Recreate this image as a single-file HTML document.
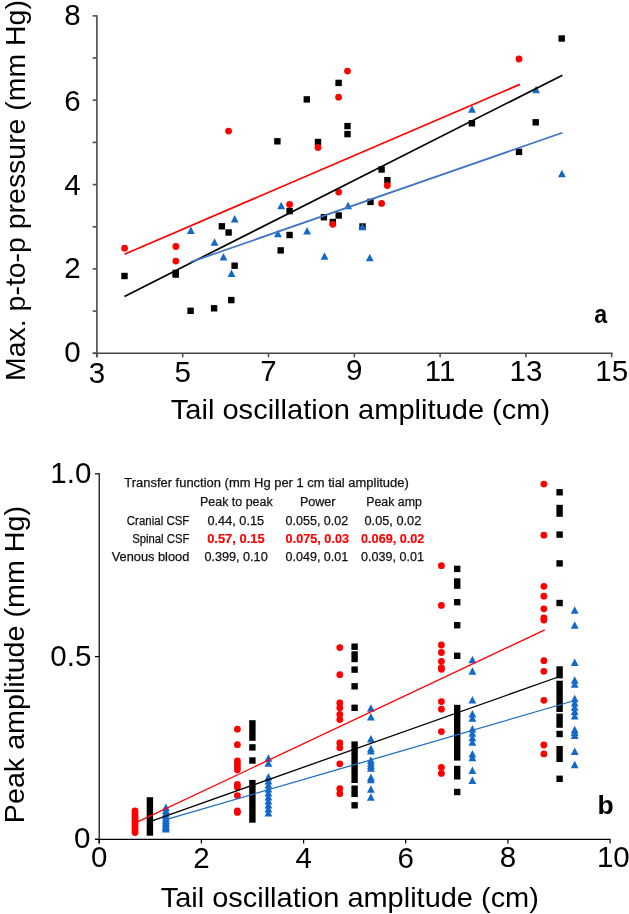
<!DOCTYPE html>
<html><head><meta charset="utf-8"><title>Chart</title>
<style>
html,body{margin:0;padding:0;background:#fff;}
body{width:629px;height:914px;overflow:hidden;}
svg{display:block;will-change:transform;}
text{font-family:'Liberation Sans',sans-serif;}
</style></head><body>
<svg width="629" height="914" viewBox="0 0 629 914">
<rect width="629" height="914" fill="#fff"/>

<g stroke="#4d4d4d" stroke-width="1.6" fill="none" stroke-linecap="butt">
<path d="M96.9 15.3V357.3"/>
<path stroke="#454545" stroke-width="1.4" d="M92.7 353.3H612.5"/>
<path d="M92.7 353.3H96.9"/>
<path d="M92.7 311.1H96.9"/>
<path d="M92.7 268.9H96.9"/>
<path d="M92.7 226.8H96.9"/>
<path d="M92.7 184.6H96.9"/>
<path d="M92.7 142.4H96.9"/>
<path d="M92.7 100.2H96.9"/>
<path d="M92.7 58.0H96.9"/>
<path d="M92.7 15.9H96.9"/>
<path d="M96.9 353.3V357.3"/>
<path d="M182.7 353.3V357.3"/>
<path d="M268.5 353.3V357.3"/>
<path d="M354.3 353.3V357.3"/>
<path d="M440.1 353.3V357.3"/>
<path d="M525.9 353.3V357.3"/>
<path d="M611.7 353.3V357.3"/>
</g>
<g font-size="29.5" fill="#000">
<text x="80.7" y="362.3" text-anchor="end">0</text>
<text x="80.7" y="277.8" text-anchor="end">2</text>
<text x="80.7" y="195.3" text-anchor="end">4</text>
<text x="80.7" y="110.5" text-anchor="end">6</text>
<text x="80.7" y="25.3" text-anchor="end">8</text>
<text x="96.9" y="382.6" text-anchor="middle">3</text>
<text x="182.7" y="381.5" text-anchor="middle">5</text>
<text x="268.5" y="380.9" text-anchor="middle">7</text>
<text x="354.3" y="379.8" text-anchor="middle">9</text>
<text x="440.1" y="380.6" text-anchor="middle">11</text>
<text x="525.9" y="381.4" text-anchor="middle">13</text>
<text x="611.7" y="380.9" text-anchor="middle">15</text>
</g>
<text x="170.8" y="418.9" font-size="28" textLength="379.4" lengthAdjust="spacingAndGlyphs">Tail oscillation amplitude (cm)</text>
<text transform="translate(25.4 380.9) rotate(-90)" x="0" y="0" font-size="28" textLength="380.8" lengthAdjust="spacingAndGlyphs">Max. p-to-p pressure (mm Hg)</text>
<text x="594.2" y="323.3" font-size="26.5" font-weight="bold" textLength="12.9" lengthAdjust="spacingAndGlyphs">a</text>
<g fill="#000"><rect x="121.30" y="272.80" width="6.4" height="6.4"/><rect x="172.50" y="269.70" width="6.4" height="6.4"/><rect x="172.50" y="271.40" width="6.4" height="6.4"/><rect x="187.40" y="307.60" width="6.4" height="6.4"/><rect x="210.90" y="305.10" width="6.4" height="6.4"/><rect x="228.10" y="296.90" width="6.4" height="6.4"/><rect x="231.40" y="262.50" width="6.4" height="6.4"/><rect x="225.40" y="229.30" width="6.4" height="6.4"/><rect x="218.70" y="223.10" width="6.4" height="6.4"/><rect x="286.40" y="207.90" width="6.4" height="6.4"/><rect x="286.40" y="231.80" width="6.4" height="6.4"/><rect x="277.50" y="247.20" width="6.4" height="6.4"/><rect x="320.70" y="214.00" width="6.4" height="6.4"/><rect x="335.50" y="212.30" width="6.4" height="6.4"/><rect x="329.60" y="218.80" width="6.4" height="6.4"/><rect x="359.30" y="223.30" width="6.4" height="6.4"/><rect x="367.30" y="198.70" width="6.4" height="6.4"/><rect x="378.40" y="166.30" width="6.4" height="6.4"/><rect x="384.20" y="177.00" width="6.4" height="6.4"/><rect x="335.40" y="79.70" width="6.4" height="6.4"/><rect x="303.60" y="96.20" width="6.4" height="6.4"/><rect x="344.30" y="122.90" width="6.4" height="6.4"/><rect x="344.30" y="130.90" width="6.4" height="6.4"/><rect x="274.20" y="138.10" width="6.4" height="6.4"/><rect x="314.80" y="138.80" width="6.4" height="6.4"/><rect x="468.70" y="120.10" width="6.4" height="6.4"/><rect x="532.50" y="119.10" width="6.4" height="6.4"/><rect x="515.80" y="148.70" width="6.4" height="6.4"/><rect x="558.50" y="35.30" width="6.4" height="6.4"/></g>
<g fill="#ff0000"><circle cx="124.6" cy="248.2" r="3.4"/><circle cx="175.9" cy="246.5" r="3.4"/><circle cx="175.9" cy="261.1" r="3.4"/><circle cx="228.6" cy="131.1" r="3.4"/><circle cx="289.6" cy="204.5" r="3.4"/><circle cx="338.7" cy="192.1" r="3.4"/><circle cx="332.8" cy="224.3" r="3.4"/><circle cx="387.3" cy="185.5" r="3.4"/><circle cx="381.6" cy="203.4" r="3.4"/><circle cx="347.5" cy="71.1" r="3.4"/><circle cx="338.6" cy="97.2" r="3.4"/><circle cx="318.0" cy="147.5" r="3.4"/><circle cx="519.0" cy="59.0" r="3.4"/></g>
<g fill="#1468c8"><path d="M190.90 226.55L194.80 234.05L187.00 234.05Z"/><path d="M214.50 238.35L218.40 245.85L210.60 245.85Z"/><path d="M223.50 253.05L227.40 260.55L219.60 260.55Z"/><path d="M231.50 269.45L235.40 276.95L227.60 276.95Z"/><path d="M234.70 214.95L238.60 222.45L230.80 222.45Z"/><path d="M281.20 201.85L285.10 209.35L277.30 209.35Z"/><path d="M277.90 229.65L281.80 237.15L274.00 237.15Z"/><path d="M307.10 227.05L311.00 234.55L303.20 234.55Z"/><path d="M348.10 201.65L352.00 209.15L344.20 209.15Z"/><path d="M324.50 252.25L328.40 259.75L320.60 259.75Z"/><path d="M362.40 222.75L366.30 230.25L358.50 230.25Z"/><path d="M369.80 253.85L373.70 261.35L365.90 261.35Z"/><path d="M472.00 105.25L475.90 112.75L468.10 112.75Z"/><path d="M536.10 85.85L540.00 93.35L532.20 93.35Z"/><path d="M561.90 169.75L565.80 177.25L558.00 177.25Z"/></g>
<g stroke-width="1.7" fill="none">
<path stroke="#ff0000" d="M124.5 254.3L519.9 84.4"/>
<path stroke="#000" d="M124.5 296.4L562.4 75.2"/>
<path stroke="#3f73c4" d="M190.5 262.1L562.4 132.8"/>
</g>
<g stroke="#000" stroke-width="1.2" fill="none">
<path d="M99.2 473.3V843.6"/>
<path d="M95.0 839.4H610.6"/>
<path d="M95.0 839.4H99.2"/>
<path d="M95.0 656.6H99.2"/>
<path d="M95.0 473.8H99.2"/>
<path d="M99.2 839.4V843.6"/>
<path d="M201.4 839.4V843.6"/>
<path d="M303.6 839.4V843.6"/>
<path d="M405.7 839.4V843.6"/>
<path d="M507.9 839.4V843.6"/>
<path d="M610.1 839.4V843.6"/>
</g>
<g font-size="29.5" fill="#000">
<text x="91.3" y="483.4" text-anchor="end">1.0</text>
<text x="91.3" y="666.2" text-anchor="end">0.5</text>
<text x="90.3" y="848.0" text-anchor="end">0</text>
<text x="99.2" y="867.3" text-anchor="middle">0</text>
<text x="201.4" y="868.3" text-anchor="middle">2</text>
<text x="303.6" y="868.2" text-anchor="middle">4</text>
<text x="405.7" y="868.1" text-anchor="middle">6</text>
<text x="507.9" y="867.3" text-anchor="middle">8</text>
<text x="613.3" y="867.3" text-anchor="middle">10</text>
</g>
<text x="160.7" y="906.5" font-size="28" textLength="378.2" lengthAdjust="spacingAndGlyphs">Tail oscillation amplitude (cm)</text>
<text transform="translate(24.2 823.2) rotate(-90)" x="0" y="0" font-size="28" textLength="317.2" lengthAdjust="spacingAndGlyphs">Peak amplitude (mm Hg)</text>
<text x="597.5" y="813.8" font-size="26.5" font-weight="bold">b</text>
<text x="124.3" y="487.3" font-size="12.5" fill="#111" stroke="#111" stroke-width="0.25"  text-anchor="start" textLength="284.5" lengthAdjust="spacingAndGlyphs">Transfer function (mm Hg per 1 cm tial amplitude)</text>
<text x="200.0" y="506.0" font-size="12.5" fill="#111" stroke="#111" stroke-width="0.25"  text-anchor="start" textLength="72.6" lengthAdjust="spacingAndGlyphs">Peak to peak</text>
<text x="299.9" y="506.0" font-size="12.5" fill="#111" stroke="#111" stroke-width="0.25"  text-anchor="start" textLength="35.6" lengthAdjust="spacingAndGlyphs">Power</text>
<text x="366.2" y="506.0" font-size="12.5" fill="#111" stroke="#111" stroke-width="0.25"  text-anchor="start" textLength="55.6" lengthAdjust="spacingAndGlyphs">Peak amp</text>
<text x="126.8" y="524.9" font-size="12.5" fill="#111" stroke="#111" stroke-width="0.25"  text-anchor="start" textLength="62.6" lengthAdjust="spacingAndGlyphs">Cranial CSF</text>
<text x="132.2" y="543.0" font-size="12.5" fill="#111" stroke="#111" stroke-width="0.25"  text-anchor="start" textLength="57.2" lengthAdjust="spacingAndGlyphs">Spinal CSF</text>
<text x="111.7" y="561.4" font-size="12.5" fill="#111" stroke="#111" stroke-width="0.25"  text-anchor="start" textLength="77.6" lengthAdjust="spacingAndGlyphs">Venous blood</text>
<text x="207.5" y="524.9" font-size="12.5" fill="#111" stroke="#111" stroke-width="0.25"  text-anchor="start" textLength="56.6" lengthAdjust="spacingAndGlyphs">0.44, 0.15</text>
<text x="285.6" y="524.9" font-size="12.5" fill="#111" stroke="#111" stroke-width="0.25"  text-anchor="start" textLength="62.6" lengthAdjust="spacingAndGlyphs">0.055, 0.02</text>
<text x="364.5" y="524.9" font-size="12.5" fill="#111" stroke="#111" stroke-width="0.25"  text-anchor="start" textLength="56.8" lengthAdjust="spacingAndGlyphs">0.05, 0.02</text>
<text x="207.2" y="542.8" font-size="12.5" fill="#ff0000" font-weight="bold" stroke="#ff0000" stroke-width="0.15" textLength="57.4" lengthAdjust="spacingAndGlyphs">0.57, 0.15</text>
<text x="285.6" y="542.8" font-size="12.5" fill="#ff0000" font-weight="bold" stroke="#ff0000" stroke-width="0.15" textLength="63.4" lengthAdjust="spacingAndGlyphs">0.075, 0.03</text>
<text x="361.1" y="542.8" font-size="12.5" fill="#ff0000" font-weight="bold" stroke="#ff0000" stroke-width="0.15" textLength="63.2" lengthAdjust="spacingAndGlyphs">0.069, 0.02</text>
<text x="204.4" y="561.4" font-size="12.5" fill="#111" stroke="#111" stroke-width="0.25"  text-anchor="start" textLength="63.3" lengthAdjust="spacingAndGlyphs">0.399, 0.10</text>
<text x="285.5" y="561.4" font-size="12.5" fill="#111" stroke="#111" stroke-width="0.25"  text-anchor="start" textLength="62.8" lengthAdjust="spacingAndGlyphs">0.049, 0.01</text>
<text x="361.1" y="561.4" font-size="12.5" fill="#111" stroke="#111" stroke-width="0.25"  text-anchor="start" textLength="62.8" lengthAdjust="spacingAndGlyphs">0.039, 0.01</text>
<g fill="#000"><rect x="249.20" y="744.20" width="6.4" height="6.4"/><rect x="249.20" y="757.30" width="6.4" height="6.4"/><rect x="351.40" y="643.50" width="6.4" height="6.4"/><rect x="351.40" y="666.40" width="6.4" height="6.4"/><rect x="351.40" y="683.10" width="6.4" height="6.4"/><rect x="351.40" y="704.60" width="6.4" height="6.4"/><rect x="351.40" y="802.10" width="6.4" height="6.4"/><rect x="454.00" y="565.70" width="6.4" height="6.4"/><rect x="454.00" y="599.00" width="6.4" height="6.4"/><rect x="454.00" y="622.00" width="6.4" height="6.4"/><rect x="454.00" y="652.60" width="6.4" height="6.4"/><rect x="454.00" y="788.80" width="6.4" height="6.4"/><rect x="556.40" y="489.10" width="6.4" height="6.4"/><rect x="556.40" y="531.40" width="6.4" height="6.4"/><rect x="556.40" y="560.20" width="6.4" height="6.4"/><rect x="556.40" y="599.80" width="6.4" height="6.4"/><rect x="556.40" y="730.80" width="6.4" height="6.4"/><rect x="556.40" y="775.60" width="6.4" height="6.4"/><rect x="146.70" y="797.20" width="6.4" height="38.50"/><rect x="249.20" y="720.20" width="6.4" height="20.60"/><rect x="249.20" y="779.90" width="6.4" height="42.80"/><rect x="351.40" y="651.30" width="6.4" height="10.90"/><rect x="351.40" y="741.40" width="6.4" height="41.60"/><rect x="351.40" y="785.50" width="6.4" height="11.50"/><rect x="454.00" y="578.30" width="6.4" height="10.50"/><rect x="454.00" y="704.80" width="6.4" height="55.80"/><rect x="454.00" y="765.80" width="6.4" height="13.70"/><rect x="556.40" y="504.80" width="6.4" height="12.00"/><rect x="556.40" y="666.30" width="6.4" height="12.10"/><rect x="556.40" y="680.70" width="6.4" height="31.30"/><rect x="556.40" y="713.60" width="6.4" height="14.20"/><rect x="556.40" y="746.00" width="6.4" height="16.00"/></g>
<g fill="#1468c8"><path d="M165.90 803.60L169.80 811.10L162.00 811.10Z"/><path d="M165.90 806.60L169.80 814.10L162.00 814.10Z"/><path d="M165.90 809.20L169.80 816.70L162.00 816.70Z"/><path d="M165.90 812.00L169.80 819.50L162.00 819.50Z"/><path d="M165.90 814.20L169.80 821.70L162.00 821.70Z"/><path d="M165.90 816.40L169.80 823.90L162.00 823.90Z"/><path d="M165.90 818.40L169.80 825.90L162.00 825.90Z"/><path d="M165.90 820.20L169.80 827.70L162.00 827.70Z"/><path d="M165.90 822.00L169.80 829.50L162.00 829.50Z"/><path d="M165.90 823.60L169.80 831.10L162.00 831.10Z"/><path d="M165.90 825.10L169.80 832.60L162.00 832.60Z"/><path d="M268.40 754.20L272.30 761.70L264.50 761.70Z"/><path d="M268.40 759.20L272.30 766.70L264.50 766.70Z"/><path d="M268.40 773.00L272.30 780.50L264.50 780.50Z"/><path d="M268.40 777.01L272.30 784.51L264.50 784.51Z"/><path d="M268.40 781.02L272.30 788.52L264.50 788.52Z"/><path d="M268.40 785.03L272.30 792.53L264.50 792.53Z"/><path d="M268.40 789.04L272.30 796.54L264.50 796.54Z"/><path d="M268.40 793.06L272.30 800.56L264.50 800.56Z"/><path d="M268.40 797.07L272.30 804.57L264.50 804.57Z"/><path d="M268.40 801.08L272.30 808.58L264.50 808.58Z"/><path d="M268.40 805.09L272.30 812.59L264.50 812.59Z"/><path d="M268.40 809.10L272.30 816.60L264.50 816.60Z"/><path d="M370.90 704.25L374.80 711.75L367.00 711.75Z"/><path d="M370.90 712.95L374.80 720.45L367.00 720.45Z"/><path d="M370.90 734.95L374.80 742.45L367.00 742.45Z"/><path d="M370.90 744.80L374.80 752.30L367.00 752.30Z"/><path d="M370.90 747.10L374.80 754.60L367.00 754.60Z"/><path d="M370.90 756.30L374.80 763.80L367.00 763.80Z"/><path d="M370.90 758.97L374.80 766.47L367.00 766.47Z"/><path d="M370.90 761.63L374.80 769.13L367.00 769.13Z"/><path d="M370.90 764.30L374.80 771.80L367.00 771.80Z"/><path d="M370.90 773.60L374.80 781.10L367.00 781.10Z"/><path d="M370.90 775.80L374.80 783.30L367.00 783.30Z"/><path d="M370.90 785.25L374.80 792.75L367.00 792.75Z"/><path d="M370.90 793.15L374.80 800.65L367.00 800.65Z"/><path d="M472.40 655.75L476.30 663.25L468.50 663.25Z"/><path d="M472.40 667.15L476.30 674.65L468.50 674.65Z"/><path d="M472.40 696.05L476.30 703.55L468.50 703.55Z"/><path d="M472.40 709.90L476.30 717.40L468.50 717.40Z"/><path d="M472.40 714.30L476.30 721.80L468.50 721.80Z"/><path d="M472.40 724.90L476.30 732.40L468.50 732.40Z"/><path d="M472.40 729.33L476.30 736.83L468.50 736.83Z"/><path d="M472.40 733.77L476.30 741.27L468.50 741.27Z"/><path d="M472.40 738.20L476.30 745.70L468.50 745.70Z"/><path d="M472.40 750.00L476.30 757.50L468.50 757.50Z"/><path d="M472.40 753.70L476.30 761.20L468.50 761.20Z"/><path d="M472.40 766.55L476.30 774.05L468.50 774.05Z"/><path d="M472.40 776.45L476.30 783.95L468.50 783.95Z"/><path d="M574.70 606.25L578.60 613.75L570.80 613.75Z"/><path d="M574.70 621.25L578.60 628.75L570.80 628.75Z"/><path d="M574.70 658.55L578.60 666.05L570.80 666.05Z"/><path d="M574.70 676.30L578.60 683.80L570.80 683.80Z"/><path d="M574.70 680.30L578.60 687.80L570.80 687.80Z"/><path d="M574.70 694.70L578.60 702.20L570.80 702.20Z"/><path d="M574.70 699.00L578.60 706.50L570.80 706.50Z"/><path d="M574.70 703.30L578.60 710.80L570.80 710.80Z"/><path d="M574.70 707.60L578.60 715.10L570.80 715.10Z"/><path d="M574.70 711.90L578.60 719.40L570.80 719.40Z"/><path d="M574.70 725.70L578.60 733.20L570.80 733.20Z"/><path d="M574.70 728.60L578.60 736.10L570.80 736.10Z"/><path d="M574.70 731.50L578.60 739.00L570.80 739.00Z"/><path d="M574.70 747.55L578.60 755.05L570.80 755.05Z"/><path d="M574.70 760.75L578.60 768.25L570.80 768.25Z"/></g>
<g fill="#ff0000"><circle cx="135.0" cy="811.0" r="3.4"/><circle cx="135.0" cy="813.4" r="3.4"/><circle cx="135.0" cy="815.8" r="3.4"/><circle cx="135.0" cy="818.2" r="3.4"/><circle cx="135.0" cy="820.6" r="3.4"/><circle cx="135.0" cy="822.9" r="3.4"/><circle cx="135.0" cy="825.3" r="3.4"/><circle cx="135.0" cy="827.7" r="3.4"/><circle cx="135.0" cy="830.1" r="3.4"/><circle cx="135.0" cy="832.5" r="3.4"/><circle cx="237.4" cy="729.2" r="3.4"/><circle cx="237.4" cy="744.7" r="3.4"/><circle cx="237.4" cy="761.0" r="3.4"/><circle cx="237.4" cy="763.9" r="3.4"/><circle cx="237.4" cy="766.9" r="3.4"/><circle cx="237.4" cy="769.8" r="3.4"/><circle cx="237.4" cy="784.5" r="3.4"/><circle cx="237.4" cy="787.2" r="3.4"/><circle cx="237.4" cy="795.6" r="3.4"/><circle cx="237.4" cy="811.0" r="3.4"/><circle cx="237.4" cy="812.4" r="3.4"/><circle cx="339.8" cy="647.6" r="3.4"/><circle cx="339.8" cy="674.7" r="3.4"/><circle cx="339.8" cy="703.0" r="3.4"/><circle cx="339.8" cy="707.8" r="3.4"/><circle cx="339.8" cy="714.3" r="3.4"/><circle cx="339.8" cy="719.6" r="3.4"/><circle cx="339.8" cy="743.0" r="3.4"/><circle cx="339.8" cy="747.7" r="3.4"/><circle cx="339.8" cy="763.8" r="3.4"/><circle cx="339.8" cy="788.6" r="3.4"/><circle cx="339.8" cy="793.7" r="3.4"/><circle cx="441.4" cy="565.7" r="3.4"/><circle cx="441.4" cy="605.4" r="3.4"/><circle cx="441.4" cy="645.0" r="3.4"/><circle cx="441.4" cy="652.5" r="3.4"/><circle cx="441.4" cy="661.3" r="3.4"/><circle cx="441.4" cy="667.6" r="3.4"/><circle cx="441.4" cy="669.3" r="3.4"/><circle cx="441.4" cy="701.6" r="3.4"/><circle cx="441.4" cy="709.2" r="3.4"/><circle cx="441.4" cy="731.6" r="3.4"/><circle cx="441.4" cy="767.3" r="3.4"/><circle cx="441.4" cy="773.4" r="3.4"/><circle cx="543.9" cy="484.1" r="3.4"/><circle cx="543.9" cy="535.2" r="3.4"/><circle cx="543.9" cy="586.3" r="3.4"/><circle cx="543.9" cy="596.2" r="3.4"/><circle cx="543.9" cy="608.8" r="3.4"/><circle cx="543.9" cy="618.0" r="3.4"/><circle cx="543.9" cy="620.0" r="3.4"/><circle cx="543.9" cy="660.7" r="3.4"/><circle cx="543.9" cy="671.3" r="3.4"/><circle cx="543.9" cy="700.3" r="3.4"/><circle cx="543.9" cy="745.0" r="3.4"/><circle cx="543.9" cy="753.9" r="3.4"/></g>
<g stroke-width="1.3" fill="none">
<path stroke="#ff0000" d="M135.0 823.2L544.8 629.8"/>
<path stroke="#000" d="M150.0 821.6L559.6 676.5"/>
<path stroke="#1e6fc0" d="M165.9 819.6L574.7 700.5"/>
</g>
</svg>
</body></html>
